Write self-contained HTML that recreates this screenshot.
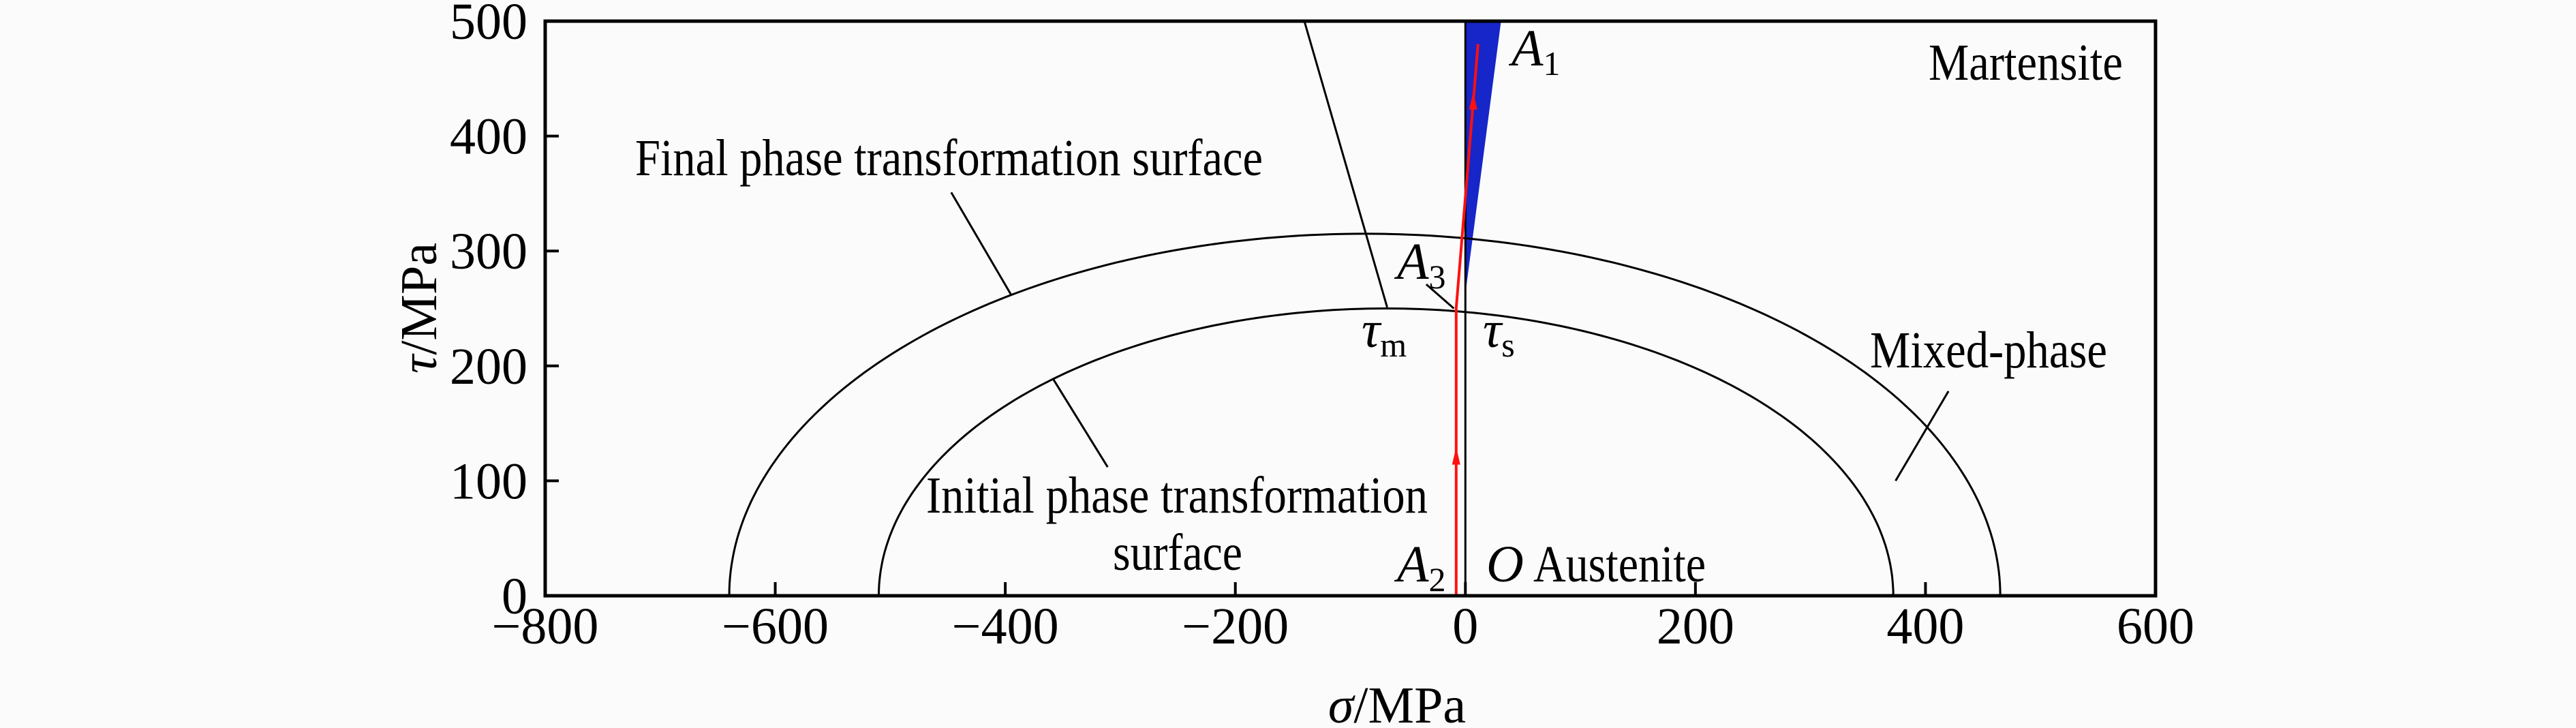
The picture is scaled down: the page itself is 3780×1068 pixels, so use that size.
<!DOCTYPE html>
<html><head><meta charset="utf-8"><style>
html,body{margin:0;padding:0;background:#fbfbfb;}
svg{display:block;font-family:"Liberation Serif",serif;}
</style></head><body>
<svg id="chart" width="3780" height="1068" viewBox="0 0 3780 1068" xmlns="http://www.w3.org/2000/svg">
<g id="marks"></g>
<g id="labels" font-size="76" fill="#000">
<text x="932" y="257" textLength="921" lengthAdjust="spacingAndGlyphs">Final phase transformation surface</text>
<text x="1359" y="752" textLength="736" lengthAdjust="spacingAndGlyphs">Initial phase transformation</text>
<text x="1633" y="836" textLength="190" lengthAdjust="spacingAndGlyphs">surface</text>
<text x="2830" y="117" textLength="285" lengthAdjust="spacingAndGlyphs">Martensite</text>
<text x="2744" y="539" textLength="348" lengthAdjust="spacingAndGlyphs">Mixed-phase</text>
<text x="2181" y="853" font-style="italic">O</text>
<text x="2250" y="853" textLength="253" lengthAdjust="spacingAndGlyphs">Austenite</text>
<text x="2050" y="853" font-style="italic">A<tspan font-size="50" font-style="normal" dy="14">2</tspan></text>
<text x="2218" y="96" font-style="italic">A<tspan font-size="50" font-style="normal" dy="14">1</tspan></text>
<text x="2050" y="409" font-style="italic">A<tspan font-size="50" font-style="normal" dy="14">3</tspan></text>
<text x="1998" y="509" font-style="italic">τ<tspan font-size="50" font-style="normal" dy="14">m</tspan></text>
<text x="2176" y="509" font-style="italic">τ<tspan font-size="50" font-style="normal" dy="14">s</tspan></text>
<text x="2050" y="1060" text-anchor="middle"><tspan font-style="italic">σ</tspan>/MPa</text>
<text transform="translate(640,452) rotate(-90)" text-anchor="middle"><tspan font-style="italic">τ</tspan>/MPa</text>
</g>
</svg>
<script>
const xTicks=[-800,-600,-400,-200,0,200,400,600];
const yTicks=[0,100,200,300,400,500];
const outerSurface=[-640,465,315];   // left, right, peak
const innerSurface=[-510,372,250];
const wedgeSigma=[0,0,31];
const wedgeTau=[263,500,500];
const pathSigma=[-8,-8,11];
const pathTau=[0,250,480];
const arrowTau=[120,429];
const leaders=[[-447,351,-395,262],[-358,188,-311,112],[420,178,374,100],[-34,271,-10,250],[-140,500,-68,251]];
const X=v=>800+(v+800)*(2363/1400);
const Y=v=>874-v*(843/500);
const NS='http://www.w3.org/2000/svg';
const g=document.getElementById('marks');
function mk(t,a){const e=document.createElementNS(NS,t);for(const k in a)e.setAttribute(k,a[k]);g.appendChild(e);return e;}
let p=wedgeSigma.map((s,i)=>X(s)+','+Y(wedgeTau[i])).join(' ');
let w=mk('polygon',{points:p,fill:'#1626c8'});


[[outerSurface,'final-surface-curve'],[innerSurface,'initial-surface-curve']].forEach(([s,n])=>{
 const c=(s[0]+s[1])/2,a=(s[1]-s[0])/2,b=s[2];let d='';
 for(let i=0;i<=180;i++){const t=Math.PI*i/180;const xx=X(c-a*Math.cos(t)),yy=Y(b*Math.sin(t));d+=(i?'L':'M')+xx.toFixed(1)+' '+yy.toFixed(1);}
 const e=mk('path',{d:d,fill:'none',stroke:'#000','stroke-width':3});
 
 
});
let vl=mk('line',{x1:X(0),y1:Y(0),x2:X(0),y2:Y(500),stroke:'#000','stroke-width':3});


leaders.forEach(l=>{const e=mk('line',{x1:X(l[0]),y1:Y(l[1]),x2:X(l[2]),y2:Y(l[3]),stroke:'#000','stroke-width':3});
 
 });
let rp=mk('polyline',{points:pathSigma.map((s,i)=>X(s)+','+Y(pathTau[i])).join(' '),fill:'none',stroke:'#ff1010','stroke-width':4});


arrowTau.forEach(t=>{
 let s;if(t<=pathTau[1])s=pathSigma[0];else s=pathSigma[1]+(pathSigma[2]-pathSigma[1])*(t-pathTau[1])/(pathTau[2]-pathTau[1]);
 const x=X(s),y=Y(t);
 const a=mk('polygon',{points:`${x},${y-16} ${x-6},${y+10} ${x+6},${y+10}`,fill:'#ff1010'});
 
 });
let f=mk('rect',{x:X(-800),y:Y(500),width:X(600)-X(-800),height:Y(0)-Y(500),fill:'none',stroke:'#000','stroke-width':5});


xTicks.forEach(v=>{
 const t=mk('line',{x1:X(v),y1:Y(0),x2:X(v),y2:Y(0)-20,stroke:'#000','stroke-width':4});
 
 
 const l=mk('text',{x:X(v),y:944,'text-anchor':'middle','font-size':76});
 l.textContent=(v<0?'\u2212'+(-v):v);
 
 });
yTicks.forEach(v=>{
 const t=mk('line',{x1:X(-800),y1:Y(v),x2:X(-800)+20,y2:Y(v),stroke:'#000','stroke-width':4});
 
 
 const l=mk('text',{x:774,y:Y(v)+26,'text-anchor':'end','font-size':76});
 l.textContent=v;
 
 });
</script>
</body></html>
